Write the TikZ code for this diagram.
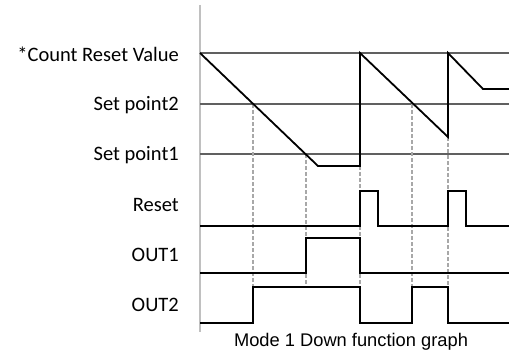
\documentclass[tikz,border=0pt]{standalone}
\usepackage{fontspec}
\setmainfont{Carlito}
\newfontfamily\capfont{Liberation Sans}
\definecolor{axisgray}{HTML}{C0C0C0}
\definecolor{levelgray}{HTML}{606060}
\definecolor{dashgray}{HTML}{A8A8A8}

\begin{document}
\begin{tikzpicture}[x=1pt,y=-1pt,
  lbl/.style={anchor=east,inner sep=0pt,font=\fontsize{20.5}{20.5}\selectfont},
  level/.style={levelgray,line width=1.1pt},
  wave/.style={black,line width=1.8pt,line join=miter},
  guide/.style={dashgray,line width=1.1pt,dash pattern=on 3.5pt off 2.5pt}]
\useasboundingbox(0,0)rectangle(509,353);
% axis and levels
\draw[axisgray,line width=1.8pt](200,5)--(200,332);
\draw[level](200,53)--(509,53);
\draw[level](200,104)--(509,104);
\draw[level](200,154)--(509,154);
% guides
\draw[guide](253,104)--(253,287);
\draw[guide](306,154)--(306,287);
\draw[guide](360,166)--(360,287);
\draw[guide](412,104)--(412,287);
\draw[guide](448,137)--(448,287);
% count value
\draw[wave](200,53)--(318,166)--(360,166)--(360,53)--(448,137)--(448,53)--(483,89)--(509,89);
% signals
\draw[wave](200,226)--(360,226)--(360,191)--(378,191)--(378,226)--(448,226)--(448,191)--(466,191)--(466,226)--(509,226);
\draw[wave](200,273)--(306,273)--(306,238)--(360,238)--(360,273)--(509,273);
\draw[wave](200,323)--(253,323)--(253,287)--(360,287)--(360,323)--(412,323)--(412,287)--(448,287)--(448,323)--(509,323);
% labels
\node[lbl](crv)at(179,54){*Count Reset Value};
\node[lbl](sp2)at(179,105){Set point2};
\node[lbl](sp1)at(179,155){Set point1};
\node[lbl](rst)at(179,205){Reset};
\node[lbl](out1)at(179,255){OUT1};
\node[lbl](out2)at(179,305){OUT2};
\node[font=\capfont\fontsize{18.3}{18.3}\selectfont,inner sep=0pt](cap)at(351,342){Mode 1 Down function graph};
\end{tikzpicture}
\end{document}
